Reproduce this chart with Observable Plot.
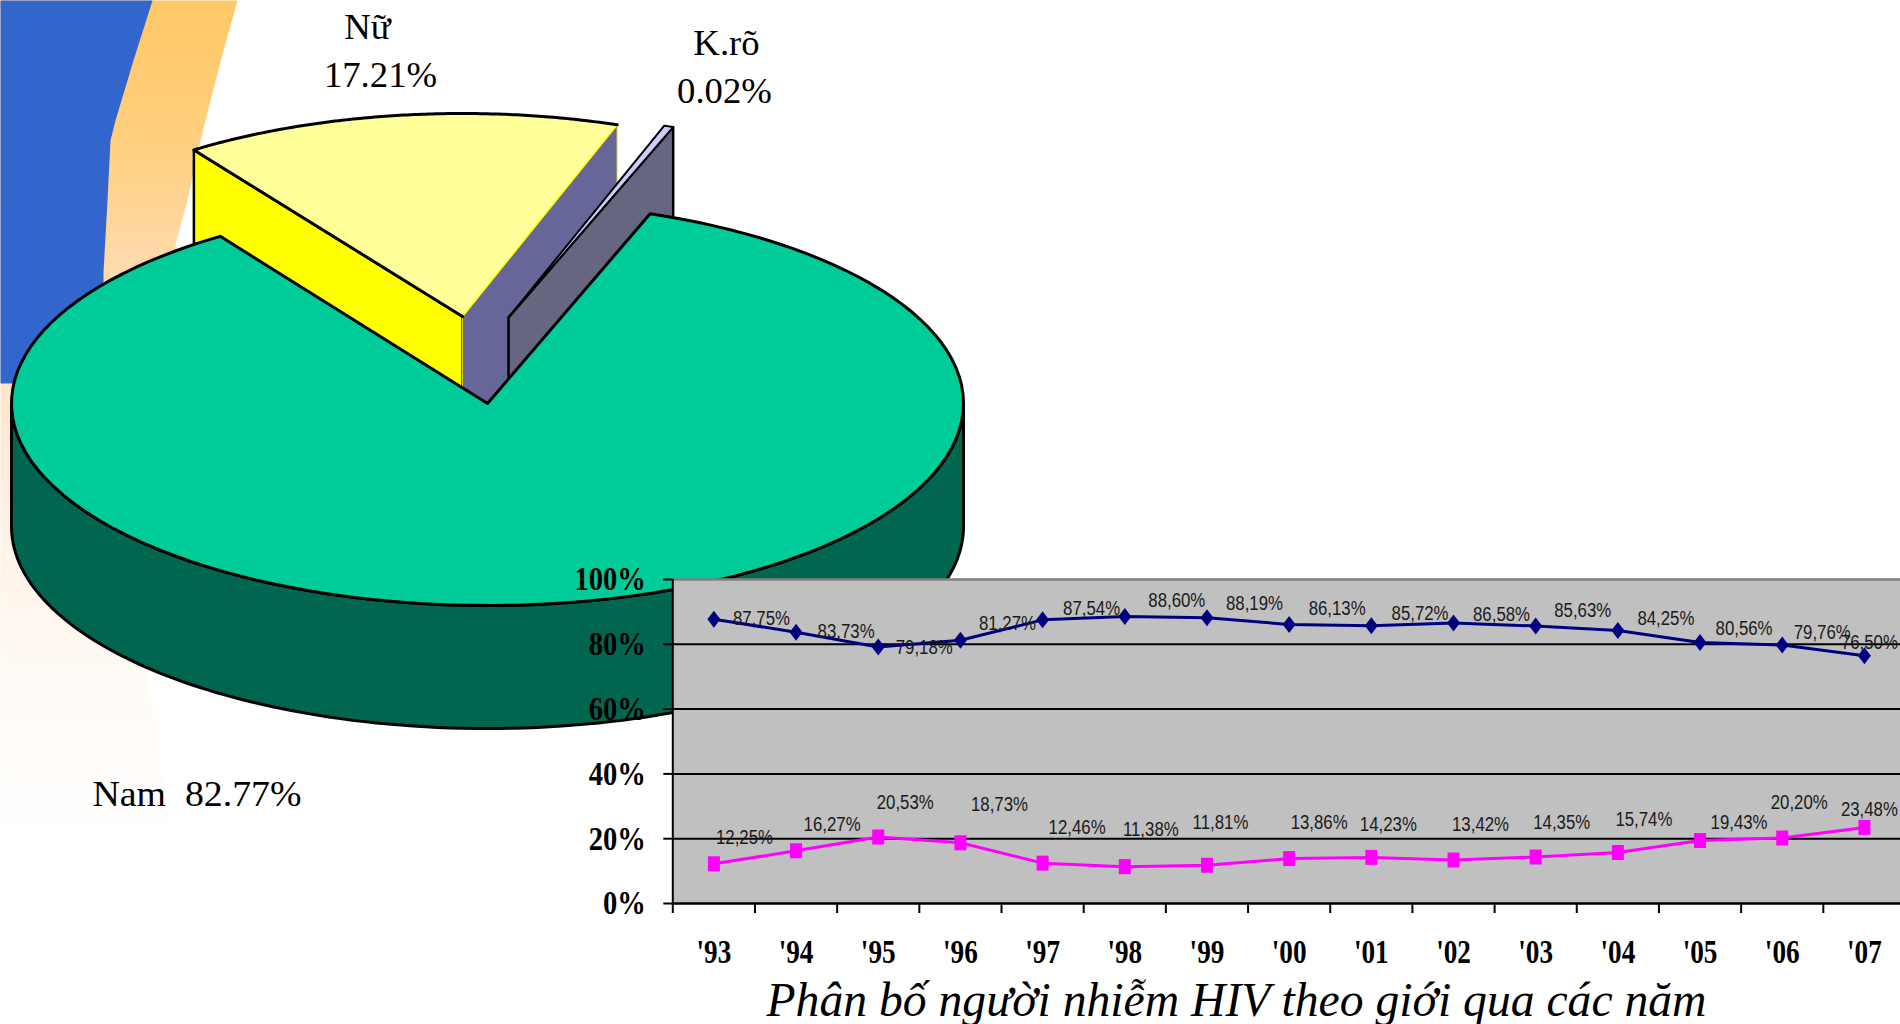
<!DOCTYPE html>
<html lang="vi">
<head>
<meta charset="utf-8">
<title>Phân bố người nhiễm HIV theo giới qua các năm</title>
<style>
html,body{margin:0;padding:0;background:#fff;overflow:hidden}
#stage{position:relative;width:1900px;height:1024px;overflow:hidden}
#stage svg{position:absolute;left:0;top:0;max-width:none}
</style>
<script src="https://cdn.jsdelivr.net/npm/d3@7"></script>
<script src="https://cdn.jsdelivr.net/npm/@observablehq/plot@0.6"></script>
</head>
<body>
<div id="stage"></div>
<script>
// ---- data ----
const pieLabels = ["Nam", "Nữ", "K.rõ"];
const pieShares = [82.77, 17.21, 0.02];
const years = [1993,1994,1995,1996,1997,1998,1999,2000,2001,2002,2003,2004,2005,2006,2007];
const namValues = [87.75,83.73,79.18,81.27,87.54,88.60,88.19,86.13,85.72,86.58,85.63,84.25,80.56,79.76,76.50];
const nuValues  = [12.25,16.27,20.53,18.73,12.46,11.38,11.81,13.86,14.23,13.42,14.35,15.74,19.43,20.20,23.48];
const percentTicks = [0,20,40,60,80,100];
const chartTitle = "Phân bố người nhiễm HIV theo giới qua các năm";

// ---- label nudges, in pixels, relative to each point ----
const namNudgeX = [47.6,50,46,47,49,52,47.5,48,48.7,48,47,48,44,40,5];
const namNudgeY = [-1,-1,0.5,-17,-11,-16,-14,-16,-12,-8,-15,-12,-14,-12,-13];
const nuNudgeX  = [30.6,36,27,39,34.5,26,13.5,30,17,27,26,26,39,17,5];
const nuNudgeY  = [-26,-26,-34.5,-38,-36,-37,-43,-36,-33,-35.5,-34.5,-33,-18,-35.6,-18];

// ---- pie layout ----
const rad = d => d * Math.PI / 180;
const depth = 123;
const foreshorten = 0.135;                 // tilted pie: the far side looks narrower
const warp = a => a - foreshorten * Math.sin(a);
const namDisc = {cx:487, cy:403, rx:476, ry:202, twist:0};
const nuDisc  = {cx:462, cy:316, rx:470, ry:203, twist:-0.7};
const kroDisc = {cx:508, cy:317, rx:476, ry:203, twist:0};
const minSliver = 1.3;                     // smallest drawable slice, degrees

const arcs = d3.pie().sort(null).startAngle(rad(23)).endAngle(rad(383))(pieShares);
const rim = (disc, a) => {
  const t = warp(a) + rad(disc.twist);
  return {x: disc.cx + disc.rx * Math.sin(t), y: disc.cy - disc.ry * Math.cos(t)};
};
const arcPoints = (disc, a0, a1) => d3.range(0, 121).map(i => rim(disc, a0 + (a1 - a0) * i / 120));
const down = p => ({x: p.x, y: p.y + depth});
const [namArc, nuArc, kroArc] = arcs;
const apex = d => ({x: d.cx, y: d.cy});

const namTop = [apex(namDisc), ...arcPoints(namDisc, namArc.startAngle, namArc.endAngle)];
const namFront = d3.range(0, 121).map(i => ({x: namDisc.cx + namDisc.rx * Math.sin(rad(90 + 180 * i / 120)), y: namDisc.cy - namDisc.ry * Math.cos(rad(90 + 180 * i / 120))}));
const namSide = [...namFront, ...namFront.slice().reverse().map(down)];

const nuArcPts = arcPoints(nuDisc, nuArc.startAngle, nuArc.endAngle);
const nuLeft = nuArcPts[0], nuRight = nuArcPts[nuArcPts.length - 1];
const nuTop = [apex(nuDisc), ...nuArcPts];
const nuLeftWall = [apex(nuDisc), nuLeft, down(nuLeft), down(apex(nuDisc))];
const nuRightWall = [apex(nuDisc), nuRight, down(nuRight), down(apex(nuDisc))];

const kroEnd = kroArc.endAngle + rad(0.3);
const kroStart = kroEnd - Math.max(kroArc.endAngle - kroArc.startAngle, rad(minSliver));
const kroPts = arcPoints(kroDisc, kroStart, kroEnd);
const kroTop = [apex(kroDisc), ...kroPts];
const kroRight = kroPts[kroPts.length - 1];
const kroWall = [apex(kroDisc), kroRight, down(kroRight), down(apex(kroDisc))];

const poly = (pts, fill, stroke, strokeWidth) =>
  Plot.line(pts, {x:"x", y:"y", curve:"linear-closed", fill, stroke, strokeWidth, strokeLinejoin:"round"});
const open = (pts, stroke, strokeWidth) =>
  Plot.line(pts, {x:"x", y:"y", fill:"none", stroke, strokeWidth, strokeLinejoin:"round"});

// slide background
const bgStops = [[0,"#ffc766"],[0.17,"#ffd080"],[0.3,"#ffd9a8"],[0.45,"#ffe4c8"],[0.63,"#fff3e8"],[0.82,"#fffbf7"],[1,"#ffffff"]];
const gradientDefs = () => {
  const defs = d3.create("svg:defs");
  const g = defs.append("linearGradient").attr("id","slideFade").attr("gradientUnits","userSpaceOnUse")
    .attr("x1",0).attr("x2",0).attr("y1",0).attr("y2",850);
  bgStops.forEach(([o,c]) => g.append("stop").attr("offset",o).attr("stop-color",c));
  return defs.node();
};
const pt = ([x,y]) => ({x,y});
const swoosh = [[0,0],[237,0],[223,50],[210,100],[200,140],[187,200],[176,240],[150,420],[147,670],[155,737],[175,850],[0,850]].map(pt);
const blueShape = [[0,0],[152,0],[133,60],[115,120],[110,140],[107,200],[103,272],[103,282],[40,383],[0,383]].map(pt);

const serif = "'Liberation Serif','Times New Roman',serif";
const sans = "'Liberation Sans',Arial,sans-serif";
const pct = v => v.toFixed(2) + "%";

const pieTexts = [
  {x:367, y:27, t:pieLabels[1]},
  {x:380, y:75, t:pct(pieShares[1])},
  {x:726, y:43, t:pieLabels[2]},
  {x:724, y:91, t:pct(pieShares[2])}
];

const piePlot = Plot.plot({
  width:1900, height:1024, margin:0,
  style:{background:"transparent", fontFamily:serif, overflow:"hidden"},
  x:{domain:[0,1900], range:[0,1900], axis:null},
  y:{domain:[0,1024], range:[0,1024], axis:null},
  marks:[
    gradientDefs,
    poly(swoosh, "url(#slideFade)", "none", 0),
    poly(blueShape, "#3366cc", "none", 0),
    poly(nuLeftWall, "#ffff00", "#000", 2.5),
    poly(nuRightWall, "#666699", "#ffff00", 1),
    poly(nuTop, "#ffff99", "none", 0),
    open([nuRight, apex(nuDisc)], "#ffff00", 1.5),
    open([apex(nuDisc), ...nuArcPts], "#000", 3),
    poly(kroWall, "#666680", "#000", 2.5),
    poly(kroTop, "#ccccff", "#000", 2),
    poly(namSide, "#006650", "#000", 3),
    poly(namTop, "#00cc99", "#000", 3),
    Plot.text(pieTexts, {x:"x", y:"y", text:"t", textAnchor:"middle", fontSize:36, fill:"#000", className:"pieLabel"}),
    Plot.text([{x:92, y:794, t:pieLabels[0] + "\u00a0\u00a0" + pct(pieShares[0])}],
      {x:"x", y:"y", text:"t", textAnchor:"start", fontSize:36, fill:"#000", className:"namLabel"}),
    Plot.text([{x:766, y:1000, t:chartTitle}],
      {x:"x", y:"y", text:"t", textAnchor:"start", fontSize:48, fontStyle:"italic", fill:"#000", className:"mainTitle"})
  ]
});

// ---- line chart ----
const bandPx = 82.18, yPx = 3.24;
const rows = (vals, nx, ny) => vals.map((v,i) => ({
  year: years[i], value: v,
  lx: years[i] + nx[i] / bandPx,
  ly: v - ny[i] / yPx,
  label: v.toFixed(2).replace(".", ",") + "%"
}));
const namRows = rows(namValues, namNudgeX, namNudgeY);
const nuRows = rows(nuValues, nuNudgeX, nuNudgeY);
const diamond = {draw(c){c.moveTo(0,-8.5);c.lineTo(6.5,0);c.lineTo(0,8.5);c.lineTo(-6.5,0);c.closePath();}};
const squareMark = {draw(c){c.moveTo(-6,-7.5);c.lineTo(6,-7.5);c.lineTo(6,7.5);c.lineTo(-6,7.5);c.closePath();}};
const edges = [...years.map(y => y - 0.5), 2007.5];

const linePlot = Plot.plot({
  width:1905, height:1024,
  marginLeft:672.3, marginRight:0, marginTop:579, marginBottom:121,
  style:{background:"transparent", fontFamily:serif, color:"#000"},
  x:{domain:[1992.5,2007.5], axis:null},
  y:{domain:[0,100], axis:null},
  marks:[
    Plot.frame({fill:"#c0c0c0", stroke:"none"}),
    Plot.ruleY([20,40,60,80], {stroke:"#000", strokeWidth:2}),
    Plot.ruleY([100], {stroke:"#808080", strokeWidth:2.5}),
    Plot.ruleY([0], {stroke:"#000", strokeWidth:2.5}),
    Plot.ruleX([1992.5], {stroke:"#000", strokeWidth:2}),
    Plot.axisY({ticks:percentTicks, tickFormat:d => d + "%", tickSize:9, tickPadding:18, strokeWidth:2, stroke:"#000", fontSize:34, fontWeight:"bold", fill:"#000", label:null}),
    Plot.axisX({ticks:edges, tickSize:10, strokeWidth:2, stroke:"#000", tickFormat:() => "", label:null}),
    Plot.axisX({ticks:years, tickSize:0, tickPadding:35, fontSize:34, fontWeight:"bold", fill:"#000", tickFormat:d => "'" + String(d).slice(2), label:null}),
    Plot.line(namRows, {x:"year", y:"value", stroke:"#000080", strokeWidth:3}),
    Plot.line(nuRows, {x:"year", y:"value", stroke:"#ff00ff", strokeWidth:3}),
    Plot.dot(namRows, {x:"year", y:"value", symbol:diamond, r:1, fill:"#000080"}),
    Plot.dot(nuRows, {x:"year", y:"value", symbol:squareMark, r:1, fill:"#ff00ff"}),
    Plot.text(namRows, {x:"lx", y:"ly", text:"label", fontSize:20, fill:"#1a1a1a", fontFamily:sans, className:"dataLabel"}),
    Plot.text(nuRows, {x:"lx", y:"ly", text:"label", fontSize:20, fill:"#1a1a1a", fontFamily:sans, className:"dataLabel"})
  ]
});

const stage = document.getElementById("stage");
stage.append(piePlot, linePlot);

// the reference's type is horizontally squeezed or stretched
const squeeze = (root, selector, factor, fixed) => {
  root.querySelectorAll(selector).forEach(t => {
    const w = fixed || t.getComputedTextLength() * factor;
    t.setAttribute("textLength", w);
    t.setAttribute("lengthAdjust", "spacingAndGlyphs");
  });
};
squeeze(linePlot, 'g[aria-label="y-axis tick label"] text', 0.84);
squeeze(linePlot, 'g[aria-label="x-axis tick label"] text', 0.8);
squeeze(linePlot, '.dataLabel text', 0.84);
squeeze(piePlot, '.pieLabel text', 1.02);
squeeze(piePlot, '.namLabel text', 1, 209);
squeeze(piePlot, '.mainTitle text', 1, 940);
</script>
</body>
</html>
